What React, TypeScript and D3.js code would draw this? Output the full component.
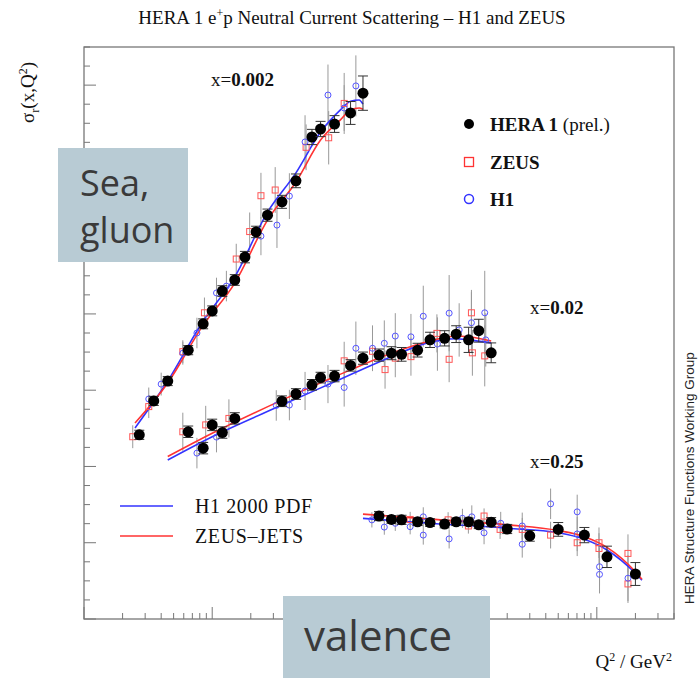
import React from 'react';
import * as d3 from 'd3';

const W = 699;
const H = 678;

// ---- HERA 1 combined (prel.) : Q2 values, reduced cross section (offset units), errors
const heraQ2_x002 = [2.7, 3.5, 4.5, 6.5, 8.5, 10, 12, 15, 18, 22, 27, 35, 45, 60, 70, 90, 120, 150];
const heraSig_x002 = [0.483, 0.572, 0.624, 0.705, 0.774, 0.808, 0.86, 0.889, 0.949, 1.015, 1.059, 1.094, 1.149, 1.264, 1.285, 1.298, 1.327, 1.379];
const heraErr_x002 = [0.012, 0.012, 0.012, 0.012, 0.013, 0.013, 0.014, 0.014, 0.015, 0.015, 0.016, 0.017, 0.018, 0.02, 0.02, 0.022, 0.03, 0.045];

const heraQ2_x02 = [6.5, 8.5, 10, 12, 15, 35, 45, 60, 70, 90, 120, 150, 200, 250, 300, 400, 500, 650, 800, 1000, 1200, 1500];
const heraSig_x02 = [0.491, 0.448, 0.509, 0.489, 0.526, 0.571, 0.59, 0.614, 0.633, 0.637, 0.665, 0.684, 0.692, 0.697, 0.694, 0.705, 0.732, 0.736, 0.747, 0.732, 0.756, 0.698];
const heraErr_x02 = [0.015, 0.015, 0.015, 0.015, 0.015, 0.014, 0.014, 0.014, 0.014, 0.015, 0.015, 0.016, 0.016, 0.017, 0.018, 0.018, 0.02, 0.02, 0.022, 0.033, 0.03, 0.026];

const heraQ2_x025 = [200, 250, 300, 400, 500, 650, 800, 1000, 1200, 1500, 2000, 3000, 5000, 8000, 12000, 20000];
const heraSig_x025 = [0.27, 0.261, 0.26, 0.255, 0.253, 0.249, 0.255, 0.255, 0.247, 0.254, 0.236, 0.218, 0.235, 0.22, 0.163, 0.118];
const heraErr_x025 = [0.012, 0.01, 0.012, 0.01, 0.01, 0.01, 0.01, 0.01, 0.01, 0.012, 0.012, 0.014, 0.018, 0.02, 0.028, 0.03];

// ---- ZEUS : [Q2, value, error]
const zeus_x002: number[][] = [
  [2.4, 0.478, 0.03], [3.2, 0.557, 0.03], [5.9, 0.701, 0.03], [8.7, 0.803, 0.04], [15.4, 0.944, 0.04],
  [19.6, 1.016, 0.05], [24, 1.11, 0.06], [31, 1.125, 0.06], [54, 1.237, 0.06], [81, 1.262, 0.07], [107, 1.352, 0.08],
];
const zeus_x02: number[][] = [
  [5.9, 0.491, 0.05], [8.9, 0.509, 0.05], [13.5, 0.526, 0.05], [107, 0.677, 0.05], [178, 0.702, 0.05],
  [223, 0.654, 0.05], [268, 0.684, 0.05], [355, 0.688, 0.05], [566, 0.749, 0.05], [705, 0.681, 0.06],
  [1052, 0.803, 0.06], [1070, 0.698, 0.06], [1336, 0.69, 0.08],
];
const zeus_x025: number[][] = [
  [350, 0.261, 0.02], [692, 0.26, 0.02], [996, 0.244, 0.02], [1320, 0.27, 0.02], [1760, 0.235, 0.025],
  [2620, 0.235, 0.03], [4360, 0.22, 0.035], [7030, 0.2, 0.035], [10400, 0.2, 0.04], [10400, 0.185, 0.04],
  [17500, 0.172, 0.05], [17500, 0.092, 0.05],
];

// ---- H1 : [Q2, value, error]
const h1_x002: number[][] = [
  [3.2, 0.577, 0.03], [4.0, 0.616, 0.03], [5.9, 0.697, 0.03], [7.6, 0.75, 0.04], [10.8, 0.855, 0.04],
  [12.9, 0.873, 0.04], [24, 1.004, 0.05], [32, 1.033, 0.06], [40, 1.109, 0.06], [53, 1.251, 0.07],
  [80, 1.374, 0.08], [107, 1.34, 0.06], [132, 1.398, 0.08],
];
const h1_x02: number[][] = [
  [7.6, 0.435, 0.04], [10.8, 0.477, 0.04], [31.6, 0.56, 0.04], [40, 0.561, 0.04], [53, 0.598, 0.05],
  [80, 0.616, 0.05], [107, 0.607, 0.05], [132, 0.71, 0.07], [178, 0.71, 0.06], [220, 0.723, 0.06],
  [268, 0.742, 0.06], [355, 0.74, 0.06], [443, 0.794, 0.08], [571, 0.721, 0.07], [705, 0.802, 0.1],
  [844, 0.758, 0.07], [1052, 0.777, 0.08], [1336, 0.803, 0.11], [1361, 0.732, 0.07],
];
const h1_x025: number[][] = [
  [176, 0.26, 0.02], [220, 0.241, 0.02], [268, 0.251, 0.02], [350, 0.242, 0.02], [443, 0.268, 0.025],
  [443, 0.22, 0.025], [705, 0.21, 0.025], [895, 0.264, 0.025], [1059, 0.268, 0.03], [1320, 0.226, 0.03],
  [1780, 0.251, 0.03], [2620, 0.244, 0.035], [2620, 0.196, 0.035], [4360, 0.302, 0.04], [7030, 0.281, 0.045],
  [7030, 0.223, 0.045], [10500, 0.137, 0.05], [10500, 0.117, 0.05], [17500, 0.107, 0.06],
];

// ---- PDF fit curves (Q2 grid, value)
const curveQ2_x002 = [2.5, 4.5, 8.4, 15, 27, 45, 70, 100, 120, 140, 150];
const h1pdf_x002 = [0.501, 0.624, 0.779, 0.897, 1.067, 1.17, 1.277, 1.335, 1.358, 1.361, 1.35];
const zjets_x002 = [0.514, 0.619, 0.768, 0.881, 1.046, 1.146, 1.256, 1.309, 1.335, 1.34, 1.337];

const curveQ2_x02 = [4.5, 10, 35, 90, 250, 500, 800, 1000, 1500];
const h1pdf_x02 = [0.417, 0.478, 0.561, 0.622, 0.688, 0.726, 0.735, 0.732, 0.724];
const zjets_x02 = [0.426, 0.487, 0.574, 0.635, 0.697, 0.729, 0.742, 0.74, 0.729];

const curveQ2_x025 = [150, 500, 2000, 5000, 8000, 12000, 20000, 22500];
const h1pdf_x025 = [0.264, 0.251, 0.238, 0.226, 0.209, 0.181, 0.12, 0.102];
const zjets_x025 = [0.275, 0.262, 0.247, 0.232, 0.216, 0.188, 0.124, 0.104];

const BLUE = '#3333ff';
const RED = '#ff3333';
const SERIF = '"Liberation Serif", "Times New Roman", serif';

export default function App() {
  const x = d3.scaleLog().domain([1, 40000]).range([84, 674]);
  const y = d3.scaleLinear().domain([0, 1.5]).range([619, 47]);
  const [x0, x1] = x.range();
  const [y0, y1] = y.range();

  const line = d3
    .line<number[]>()
    .x((d) => x(d[0]))
    .y((d) => y(d[1]))
    .curve(d3.curveMonotoneX);

  const curves = [
    { q: curveQ2_x002, b: h1pdf_x002, r: zjets_x002 },
    { q: curveQ2_x02, b: h1pdf_x02, r: zjets_x02 },
    { q: curveQ2_x025, b: h1pdf_x025, r: zjets_x025 },
  ];
  const hera = [
    { q: heraQ2_x002, s: heraSig_x002, e: heraErr_x002 },
    { q: heraQ2_x02, s: heraSig_x02, e: heraErr_x02 },
    { q: heraQ2_x025, s: heraSig_x025, e: heraErr_x025 },
  ];
  const zeus = [...zeus_x002, ...zeus_x02, ...zeus_x025];
  const h1 = [...h1_x002, ...h1_x02, ...h1_x025];

  // x ticks (log)
  const xTicks: { v: number; major: boolean }[] = [];
  for (let p = 0; p <= 4; p++) {
    for (let k = 1; k <= 9; k++) {
      const v = k * Math.pow(10, p);
      if (v >= 1 && v <= 40000) xTicks.push({ v, major: k === 1 });
    }
  }
  // y ticks
  const yTicks: { v: number; major: boolean }[] = [];
  for (let i = 0; i <= 30; i++) yTicks.push({ v: i * 0.05, major: i % 4 === 0 });

  const axisCol = '#777';

  return (
    <svg
      width={W}
      height={H}
      style={{ position: 'absolute', left: 0, top: 0, background: '#fff' }}
      fontFamily={SERIF}
    >
      <rect x={0} y={0} width={W} height={H} fill="#fff" />
      {/* title */}
      <text x={352} y={24} textAnchor="middle" fontSize={19} fill="#111">
        HERA 1 e<tspan dy={-7} fontSize={12}>+</tspan>
        <tspan dy={7}>p Neutral Current Scattering – H1 and ZEUS</tspan>
      </text>

      {/* frame */}
      <rect x={x0} y={y1} width={x1 - x0} height={y0 - y1} fill="none" stroke={axisCol} strokeWidth={1.3} />
      {xTicks.map((t, i) => (
        <line key={'xt' + i} x1={x(t.v)} x2={x(t.v)} y1={y0} y2={y0 - (t.major ? 12 : 6)} stroke={axisCol} strokeWidth={1} />
      ))}
      {yTicks.map((t, i) => (
        <line key={'yt' + i} x1={x0} x2={x0 + (t.major ? 12 : 6)} y1={y(t.v)} y2={y(t.v)} stroke={axisCol} strokeWidth={1} />
      ))}

      {/* axis titles */}
      <text transform="translate(34,62) rotate(-90)" textAnchor="end" fontSize={19} fill="#111">
        σ<tspan dy={5} fontSize={12}>r</tspan>
        <tspan dy={-5}>(x,Q</tspan>
        <tspan dy={-7} fontSize={12}>2</tspan>
        <tspan dy={7}>)</tspan>
      </text>
      <text x={672} y={668} textAnchor="end" fontSize={19} fill="#111">
        Q<tspan dy={-7} fontSize={12}>2</tspan>
        <tspan dy={7}> / GeV</tspan>
        <tspan dy={-7} fontSize={12}>2</tspan>
      </text>
      <text
        transform="translate(694,604) rotate(-90)"
        fontSize={13.5}
        fontFamily='"Liberation Sans", Arial, sans-serif'
        fill="#222"
      >
        HERA Structure Functions Working Group
      </text>

      {/* grey error bars of H1 and ZEUS */}
      {[...zeus, ...h1].map((d, i) => (
        <line key={'ge' + i} x1={x(d[0])} x2={x(d[0])} y1={y(d[1] - d[2])} y2={y(d[1] + d[2])} stroke="#999" strokeWidth={1} />
      ))}

      {/* curves */}
      {curves.map((c, i) => (
        <g key={'c' + i}>
          <path d={line(c.q.map((q, j) => [q, c.b[j]])) || ''} fill="none" stroke={BLUE} strokeWidth={1.6} />
          <path d={line(c.q.map((q, j) => [q, c.r[j]])) || ''} fill="none" stroke={RED} strokeWidth={1.6} />
        </g>
      ))}

      {/* ZEUS squares */}
      {zeus.map((d, i) => (
        <rect key={'z' + i} x={x(d[0]) - 3} y={y(d[1]) - 3} width={6} height={6} fill="none" stroke="#ff5555" strokeWidth={1} />
      ))}
      {/* H1 circles */}
      {h1.map((d, i) => (
        <circle key={'h' + i} cx={x(d[0])} cy={y(d[1])} r={3} fill="none" stroke="#5555ff" strokeWidth={1} />
      ))}

      {/* HERA points */}
      {hera.map((s, i) => (
        <g key={'hs' + i}>
          {s.q.map((q, j) => {
            const cx = x(q);
            const ya = y(s.s[j] - s.e[j]);
            const yb = y(s.s[j] + s.e[j]);
            return (
              <g key={j}>
                <line x1={cx} x2={cx} y1={ya} y2={yb} stroke="#333" strokeWidth={1} />
                <line x1={cx - 5} x2={cx + 5} y1={ya} y2={ya} stroke="#333" strokeWidth={1} />
                <line x1={cx - 5} x2={cx + 5} y1={yb} y2={yb} stroke="#333" strokeWidth={1} />
                <circle cx={cx} cy={y(s.s[j])} r={5.5} fill="#000" />
              </g>
            );
          })}
        </g>
      ))}

      {/* x labels */}
      <text x={211} y={86} fontSize={19} fill="#111">
        x=<tspan fontWeight="bold">0.002</tspan>
      </text>
      <text x={530} y={314} fontSize={19} fill="#111">
        x=<tspan fontWeight="bold">0.02</tspan>
      </text>
      <text x={530} y={468} fontSize={19} fill="#111">
        x=<tspan fontWeight="bold">0.25</tspan>
      </text>

      {/* legend top right */}
      <circle cx={469} cy={124} r={5} fill="#000" />
      <text x={490} y={131} fontSize={19} fill="#111">
        <tspan fontWeight="bold">HERA 1</tspan> (prel.)
      </text>
      <rect x={464.5} y={157.5} width={9} height={9} fill="none" stroke="#ff3333" strokeWidth={1.3} />
      <text x={490} y={169} fontSize={19} fill="#111" fontWeight="bold">ZEUS</text>
      <circle cx={469} cy={199} r={4.5} fill="none" stroke="#3333ff" strokeWidth={1.5} />
      <text x={490} y={206} fontSize={19} fill="#111" fontWeight="bold">H1</text>

      {/* legend bottom left */}
      <line x1={120} x2={173} y1={506} y2={506} stroke={BLUE} strokeWidth={1.6} />
      <text x={195} y={513} fontSize={20} letterSpacing={0.6} fill="#111">H1 2000 PDF</text>
      <line x1={120} x2={173} y1={536} y2={536} stroke={RED} strokeWidth={1.6} />
      <text x={195} y={543} fontSize={20} letterSpacing={0.6} fill="#111">ZEUS–JETS</text>

      {/* annotation boxes */}
      <rect x={58} y={148} width={130} height={114} fill="#b8cbd4" />
      <text x={80} y={196} fontSize={36} fill="#3a3a3a" fontFamily='"Open Sans", sans-serif'>Sea,</text>
      <text x={80} y={243} fontSize={36} fill="#3a3a3a" fontFamily='"Open Sans", sans-serif'>gluon</text>
      <rect x={283} y={596} width={207} height={82} fill="#b8cbd4" />
      <text x={304} y={651} fontSize={42} fill="#3a3a3a" fontFamily='"Open Sans", sans-serif'>valence</text>
    </svg>
  );
}
